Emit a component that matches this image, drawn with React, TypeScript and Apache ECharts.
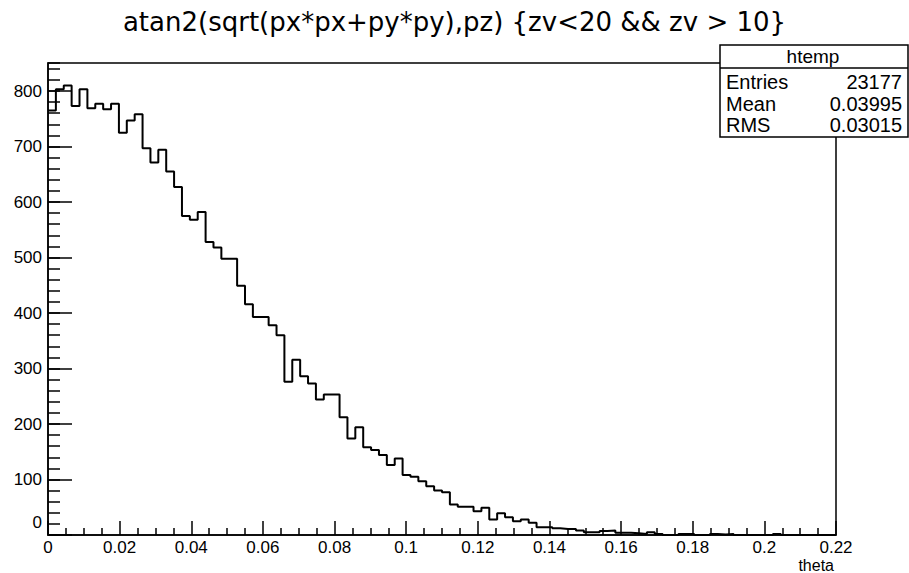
import React, { useEffect, useRef } from "react";
import * as echarts from "echarts";

const TITLE = "atan2(sqrt(px*px+py*py),pz) {zv<20 && zv > 10}";
const X_AXIS_NAME = "theta";
const X_MIN = 0;
const X_MAX = 0.22;
const X_LABEL_STEP = 0.02;
const Y_LABEL_STEP = 100;
const Y_MINOR_STEP = 20;

// 100 bins between X_MIN and X_MAX
const BIN_COUNTS = [
  765, 803, 810, 773, 803, 769, 777, 767, 777, 725,
  747, 758, 697, 671, 694, 655, 627, 575, 568, 582,
  528, 518, 498, 498, 449, 416, 393, 393, 378, 360,
  276, 316, 286, 273, 244, 253, 253, 212, 174, 194,
  158, 153, 144, 126, 138, 108, 105, 97, 88, 80,
  77, 55, 51, 51, 43, 49, 28, 39, 32, 25,
  28, 22, 14, 14, 12, 11, 11, 8, 5, 5,
  7, 8, 4, 4, 3, 2, 5, 2, 0, 0,
  2, 2, 0, 0, 2, 1, 2, 0, 0, 0,
  0, 0, 2, 0, 0, 0, 0, 0, 0, 0,
];

const STATS_NAME = "htemp";
const STATS_LABELS = ["Entries", "Mean", "RMS"];
const STATS_VALUES = ["23177", "0.03995", "0.03015"];

const FONT = "'Liberation Sans', Arial, Helvetica, sans-serif";
const TITLE_FONT = "'DejaVu Sans', 'Liberation Sans', Arial, sans-serif";

export default function App() {
  const ref = useRef<HTMLDivElement>(null);

  useEffect(() => {
    document.body.style.margin = "0";
    if (!ref.current) return;
    const chart = echarts.init(ref.current, undefined, { renderer: "svg" });

    const binW = (X_MAX - X_MIN) / BIN_COUNTS.length;
    const pts: number[][] = BIN_COUNTS.map((c, i) => [X_MIN + i * binW, c]);
    pts.push([X_MAX, BIN_COUNTS[BIN_COUNTS.length - 1]]);
    const yMax = Math.max(...BIN_COUNTS) * 1.05;

    const black = "#000";
    const lw = 1.5;

    const statRows: any[] = [];
    STATS_LABELS.forEach((lab, i) => {
      const y = 82 + i * 21.5;
      statRows.push({
        type: "text",
        x: 726,
        y,
        z: 101,
        style: { text: lab, align: "left", verticalAlign: "middle", fontSize: 20, fontFamily: FONT, fill: black },
      });
      statRows.push({
        type: "text",
        x: 902,
        y,
        z: 101,
        style: { text: STATS_VALUES[i], align: "right", verticalAlign: "middle", fontSize: 20, fontFamily: FONT, fill: black },
      });
    });

    chart.setOption({
      animation: false,
      backgroundColor: "#fff",
      title: {
        text: TITLE,
        left: "center",
        top: 4,
        textStyle: { fontSize: 26, fontWeight: "normal", color: black, fontFamily: TITLE_FONT },
      },
      grid: {
        left: 48,
        top: 63,
        width: 788,
        height: 472,
        show: true,
        borderColor: black,
        borderWidth: lw,
        containLabel: false,
        outerBoundsMode: "none",
      },
      xAxis: {
        type: "value",
        min: X_MIN,
        max: X_MAX,
        interval: X_LABEL_STEP,
        name: X_AXIS_NAME,
        nameLocation: "end",
        nameGap: -2,
        nameTextStyle: {
          fontSize: 16,
          fontFamily: FONT,
          color: black,
          align: "right",
          verticalAlign: "top",
          padding: [22, 0, 0, 0],
        },
        axisLine: { show: true, lineStyle: { color: black, width: lw } },
        axisTick: { show: true, inside: true, length: 14, lineStyle: { color: black, width: lw } },
        minorTick: { show: true, splitNumber: 4, length: 7, lineStyle: { color: black, width: lw } },
        splitLine: { show: false },
        axisLabel: {
          fontSize: 17,
          fontFamily: FONT,
          color: black,
          margin: 4,
          formatter: (v: number) => String(+v.toFixed(3)),
        },
      },
      yAxis: [
        {
          type: "value",
          position: "left",
          min: 0,
          max: yMax,
          interval: Y_LABEL_STEP,
          axisLine: { show: true, lineStyle: { color: black, width: lw } },
          axisTick: { show: true, inside: true, length: 24, lineStyle: { color: black, width: lw } },
          splitLine: { show: false },
          axisLabel: {
            fontSize: 17,
            fontFamily: FONT,
            color: black,
            margin: 6,
            showMaxLabel: false,
            formatter: (v: number) =>
              v === 0 ? "{z|0}" : Math.abs(v % Y_LABEL_STEP) < 1e-6 ? String(v) : "",
            rich: { z: { fontSize: 17, fontFamily: FONT, color: black, padding: [0, 0, 26, 0] } },
          },
        },
        {
          type: "value",
          position: "left",
          min: 0,
          max: yMax,
          interval: Y_MINOR_STEP,
          axisLine: { show: false },
          axisTick: { show: true, inside: true, length: 12, lineStyle: { color: black, width: lw } },
          splitLine: { show: false },
          axisLabel: { show: false },
        },
      ],
      series: [
        {
          type: "line",
          step: "end",
          data: pts,
          xAxisIndex: 0,
          yAxisIndex: 0,
          showSymbol: false,
          symbol: "none",
          lineStyle: { color: black, width: 2 },
          clip: true,
        },
      ],
      graphic: {
        elements: [
          {
            type: "rect",
            z: 100,
            shape: { x: 720, y: 45, width: 188, height: 92 },
            style: { fill: "#fff", stroke: black, lineWidth: lw },
          },
          {
            type: "line",
            z: 101,
            shape: { x1: 720, y1: 68, x2: 908, y2: 68 },
            style: { stroke: black, lineWidth: lw },
          },
          {
            type: "text",
            z: 101,
            x: 813,
            y: 56,
            style: { text: STATS_NAME, align: "center", verticalAlign: "middle", fontSize: 19, fontFamily: FONT, fill: black },
          },
          ...statRows,
        ],
      },
    });

    return () => chart.dispose();
  }, []);

  return <div ref={ref} style={{ width: 909, height: 573 }} />;
}
